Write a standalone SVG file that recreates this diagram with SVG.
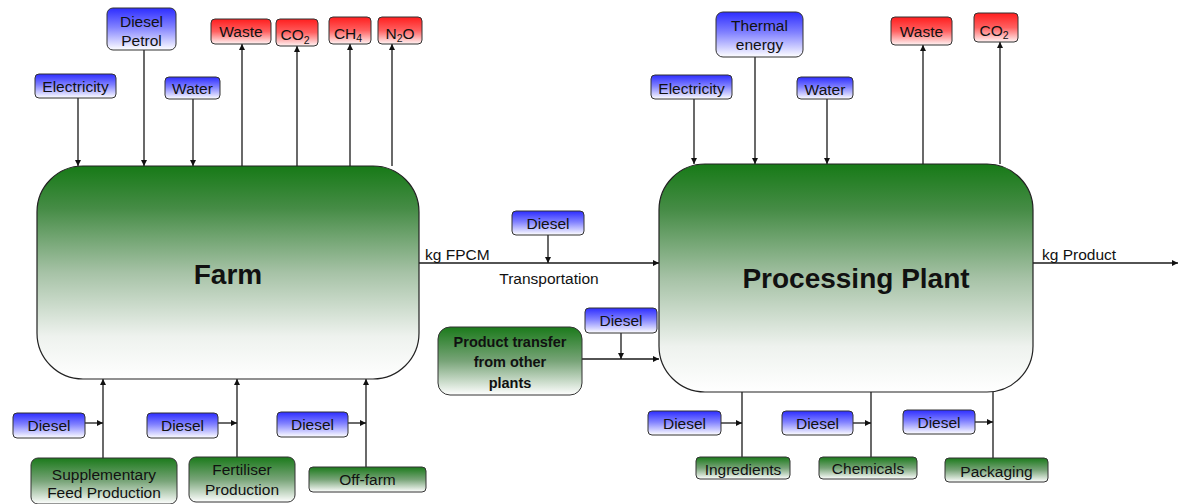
<svg xmlns="http://www.w3.org/2000/svg" width="1184" height="504" viewBox="0 0 1184 504">
<defs>
<linearGradient id="gBlue" x1="0" y1="0" x2="0" y2="1"><stop offset="0" stop-color="#2d2dff"/><stop offset="0.45" stop-color="#8080ff"/><stop offset="1" stop-color="#ffffff"/></linearGradient>
<linearGradient id="gRed" x1="0" y1="0" x2="0" y2="1"><stop offset="0" stop-color="#ff1e1e"/><stop offset="0.5" stop-color="#ff6060"/><stop offset="1" stop-color="#fff4f4"/></linearGradient>
<linearGradient id="gGreen" x1="0" y1="0" x2="0" y2="1"><stop offset="0" stop-color="#1b7a1b"/><stop offset="0.5" stop-color="#78a478"/><stop offset="1" stop-color="#ffffff"/></linearGradient>
<linearGradient id="gBig" x1="0" y1="0" x2="0" y2="1"><stop offset="0" stop-color="#177a17"/><stop offset="0.2" stop-color="#468c46"/><stop offset="0.5" stop-color="#a6c2a6"/><stop offset="0.8" stop-color="#eef2ee"/><stop offset="1" stop-color="#ffffff"/></linearGradient>
<marker id="arr" viewBox="0 0 10 10" refX="10" refY="5" markerWidth="6" markerHeight="6" markerUnits="userSpaceOnUse" orient="auto"><path d="M0,0 L10,5 L0,10 z" fill="#111"/></marker>
</defs>
<style>
text{font-family:"Liberation Sans",Arial,sans-serif;font-size:15.5px;fill:#111;text-anchor:middle}
.b{stroke:#333;stroke-width:1}
.blue{fill:url(#gBlue)}
.red{fill:url(#gRed)}
.green{fill:url(#gGreen)}
.big{fill:url(#gBig);stroke:#222;stroke-width:1.2}
.bt{font-weight:bold;font-size:28px}
.pt{font-weight:bold;font-size:14.5px}
.lbl{text-anchor:start}
#connectors line{stroke:#1a1a1a;stroke-width:1.3;fill:none}
.a{marker-end:url(#arr)}
</style>

<g id="connectors">
<line class="a" x1="78" y1="98" x2="78" y2="166"/>
<line class="a" x1="144" y1="50" x2="144" y2="166"/>
<line class="a" x1="193" y1="99" x2="193" y2="166"/>
<line class="a" x1="242" y1="166" x2="242" y2="44"/>
<line class="a" x1="297" y1="166" x2="297" y2="46"/>
<line class="a" x1="350" y1="166" x2="350" y2="44"/>
<line class="a" x1="392" y1="166" x2="392" y2="44"/>
<line class="a" x1="103" y1="458" x2="103" y2="379"/>
<line class="a" x1="85" y1="423" x2="103" y2="423"/>
<line class="a" x1="237" y1="457" x2="237" y2="379"/>
<line class="a" x1="218" y1="423" x2="237" y2="423"/>
<line class="a" x1="366" y1="467" x2="366" y2="379"/>
<line class="a" x1="348" y1="423" x2="366" y2="423"/>
<line class="a" x1="419" y1="263" x2="659" y2="263"/>
<line class="a" x1="548" y1="235" x2="548" y2="263"/>
<line class="a" x1="582" y1="359" x2="659" y2="359"/>
<line class="a" x1="621" y1="333" x2="621" y2="359"/>
<line class="a" x1="694" y1="99" x2="694" y2="164"/>
<line class="a" x1="755" y1="57" x2="755" y2="164"/>
<line class="a" x1="827" y1="99" x2="827" y2="164"/>
<line class="a" x1="923" y1="164" x2="923" y2="45"/>
<line class="a" x1="1000" y1="164" x2="1000" y2="42"/>
<line class="a" x1="1033" y1="263" x2="1178" y2="263"/>
<line x1="742" y1="392" x2="742" y2="457"/>
<line class="a" x1="721" y1="423" x2="742" y2="423"/>
<line x1="871" y1="392" x2="871" y2="457"/>
<line class="a" x1="853" y1="423" x2="871" y2="423"/>
<line x1="993" y1="392" x2="993" y2="458"/>
<line class="a" x1="975" y1="422" x2="993" y2="422"/>
</g>

<g id="farm"><rect class="big" x="37" y="166" width="382" height="213" rx="46"/><text class="bt" x="228" y="284">Farm</text></g>
<g id="plant"><rect class="big" x="659" y="164" width="374" height="228" rx="46"/><text class="bt" x="856" y="288">Processing Plant</text></g>

<g id="farm-electricity"><rect class="b blue" x="35" y="74" width="81" height="24" rx="4"/><text x="75.5" y="92">Electricity</text></g>
<g id="farm-diesel-petrol"><rect class="b blue" x="107" y="8" width="69" height="42" rx="6"/><text x="141.5" y="27">Diesel</text><text x="141.5" y="46">Petrol</text></g>
<g id="farm-water"><rect class="b blue" x="165" y="77" width="55" height="22" rx="4"/><text x="192.5" y="94">Water</text></g>
<g id="farm-waste"><rect class="b red" x="211" y="19" width="60" height="25" rx="4"/><text x="241" y="37">Waste</text></g>
<g id="farm-co2"><rect class="b red" x="276" y="19" width="42" height="27" rx="4"/><text x="295" y="40">CO<tspan dy="3.5" font-size="10.5">2</tspan></text></g>
<g id="farm-ch4"><rect class="b red" x="329" y="17" width="42" height="27" rx="4"/><text x="348" y="38.5">CH<tspan dy="3.5" font-size="10.5">4</tspan></text></g>
<g id="farm-n2o"><rect class="b red" x="378" y="17" width="44" height="27" rx="4"/><text x="400" y="38.5">N<tspan dy="3.5" font-size="10.5">2</tspan><tspan dy="-3.5">O</tspan></text></g>

<g id="farm-diesel-1"><rect class="b blue" x="13" y="413" width="72" height="25" rx="4"/><text x="49" y="431">Diesel</text></g>
<g id="farm-diesel-2"><rect class="b blue" x="147" y="413" width="71" height="25" rx="4"/><text x="182.5" y="431">Diesel</text></g>
<g id="farm-diesel-3"><rect class="b blue" x="277" y="412" width="71" height="25" rx="4"/><text x="312.5" y="430">Diesel</text></g>
<g id="supplementary"><rect class="b green" x="31" y="458" width="146" height="46" rx="7"/><text x="104" y="480">Supplementary</text><text x="104" y="498">Feed Production</text></g>
<g id="fertiliser"><rect class="b green" x="189" y="457" width="106" height="45" rx="7"/><text x="242" y="475">Fertiliser</text><text x="242" y="495">Production</text></g>
<g id="off-farm"><rect class="b green" x="309" y="467" width="117" height="25" rx="4"/><text x="367.5" y="485">Off-farm</text></g>

<g id="transport-diesel"><rect class="b blue" x="512" y="211" width="72" height="24" rx="4"/><text x="548" y="229">Diesel</text></g>
<g id="labels"><text class="lbl" x="425" y="260">kg FPCM</text><text x="549" y="284">Transportation</text><text class="lbl" x="1042" y="260">kg Product</text></g>
<g id="product-transfer"><rect class="b green" x="438" y="327" width="144" height="68" rx="12"/><text class="pt" x="510" y="347">Product transfer</text><text class="pt" x="510" y="367">from other</text><text class="pt" x="510" y="388">plants</text></g>
<g id="transfer-diesel"><rect class="b blue" x="585" y="308" width="72" height="25" rx="4"/><text x="621" y="326">Diesel</text></g>

<g id="plant-electricity"><rect class="b blue" x="651" y="75" width="81" height="24" rx="4"/><text x="691.5" y="93.5">Electricity</text></g>
<g id="plant-thermal"><rect class="b blue" x="716" y="12" width="87" height="45" rx="7"/><text x="759.5" y="31">Thermal</text><text x="759.5" y="50">energy</text></g>
<g id="plant-water"><rect class="b blue" x="797" y="77" width="56" height="22" rx="4"/><text x="825" y="94.5">Water</text></g>
<g id="plant-waste"><rect class="b red" x="891" y="17" width="61" height="28" rx="4"/><text x="921.5" y="37">Waste</text></g>
<g id="plant-co2"><rect class="b red" x="974" y="13" width="44" height="29" rx="4"/><text x="994" y="35.5">CO<tspan dy="3.5" font-size="10.5">2</tspan></text></g>

<g id="plant-diesel-1"><rect class="b blue" x="648" y="411" width="73" height="24" rx="4"/><text x="684.5" y="429">Diesel</text></g>
<g id="plant-diesel-2"><rect class="b blue" x="782" y="411" width="71" height="24" rx="4"/><text x="817.5" y="429">Diesel</text></g>
<g id="plant-diesel-3"><rect class="b blue" x="903" y="410" width="72" height="24" rx="4"/><text x="939" y="428">Diesel</text></g>
<g id="ingredients"><rect class="b green" x="696" y="457" width="94" height="22" rx="4"/><text x="743" y="474.5">Ingredients</text></g>
<g id="chemicals"><rect class="b green" x="819" y="457" width="98" height="22" rx="4"/><text x="868" y="473.5">Chemicals</text></g>
<g id="packaging"><rect class="b green" x="945" y="458" width="103" height="24" rx="4"/><text x="996.5" y="477">Packaging</text></g>
</svg>
